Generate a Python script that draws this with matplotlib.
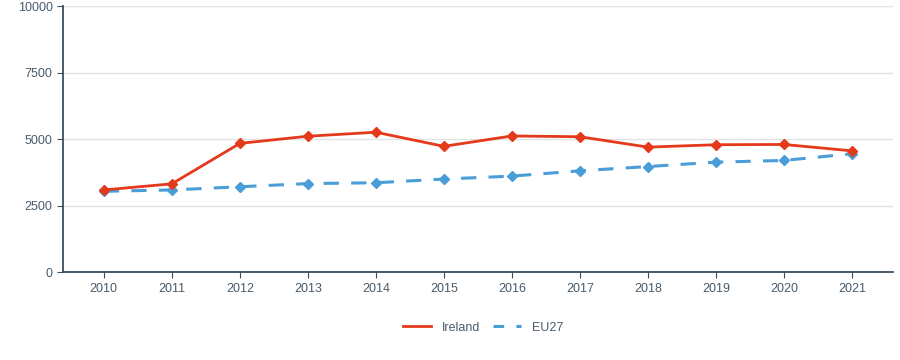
import matplotlib
matplotlib.use("Agg")
import matplotlib.pyplot as plt

years = list(range(2010, 2022))
ireland = [3090, 3320, 4840, 5110, 5260, 4730, 5120, 5090, 4700, 4790, 4800, 4560]
eu27 = [3040, 3090, 3210, 3330, 3360, 3500, 3610, 3810, 3970, 4135, 4200, 4450]
yticks = [0, 2500, 5000, 7500, 10000]

text_col = "#4a5b6c"
axis_col = "#3c4d5c"

plt.rcParams["font.family"] = ["Liberation Sans", "DejaVu Sans"]

fig = plt.figure(figsize=(9, 3.6), dpi=100)
ax = fig.add_axes([0.07, 0.244, 0.922, 0.739])

ax.plot(years, ireland, color="#e5391b", lw=2.0, marker="D", ms=5.5, label="Ireland", zorder=3)
ax.plot(years, eu27, color="#4a9ed8", lw=2.2, ls=(0, (5, 4)), marker="D", ms=5.5,
        label="EU27", zorder=2)

ax.set_xlim(2009.4, 2021.6)
ax.set_ylim(0, 10000)
ax.set_xticks(years)
ax.set_yticks(yticks)
ax.grid(axis="y", color="#e3e3e3", lw=1)
ax.set_axisbelow(True)

for s in ["top", "right"]:
    ax.spines[s].set_visible(False)
for s in ["left", "bottom"]:
    ax.spines[s].set_color(axis_col)
    ax.spines[s].set_linewidth(1.3)
ax.tick_params(colors=axis_col, labelcolor=text_col, labelsize=9, length=4)

leg = fig.legend(loc="center", bbox_to_anchor=(0.537, 0.09), ncol=2, frameon=False,
                 fontsize=9, handlelength=2.2, handletextpad=0.9, columnspacing=1.0,
                 numpoints=1)
for h in leg.legend_handles:
    h.set_marker("")
leg.legend_handles[1].set_linestyle((0, (3.5, 4)))
for t in leg.get_texts():
    t.set_color(text_col)

fig.savefig("out.png", dpi=100)
